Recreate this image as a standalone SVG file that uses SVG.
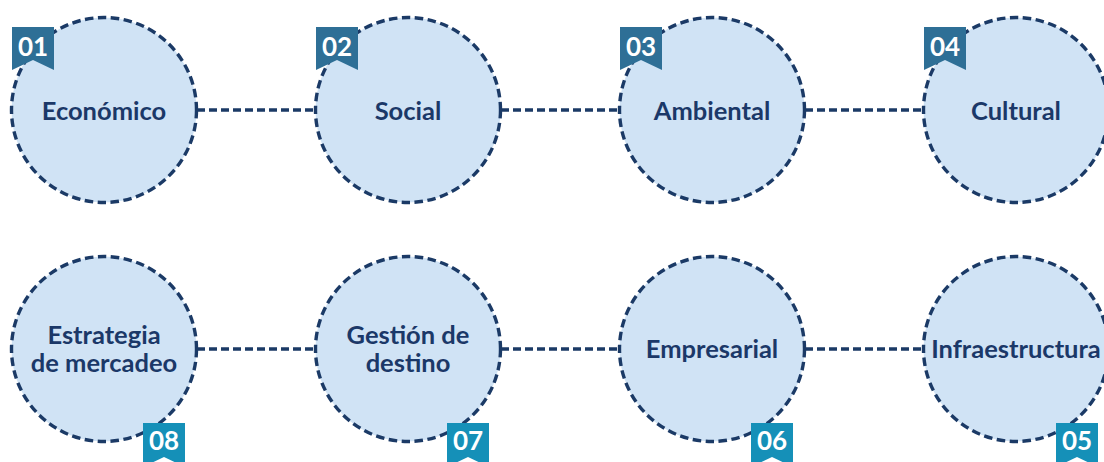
<svg xmlns="http://www.w3.org/2000/svg" width="1104" height="462" viewBox="0 0 1104 462">
<style>
.c{fill:#d0e3f5;stroke:#1b3a66;stroke-width:3.4;stroke-dasharray:8.5 4.5}
.l{stroke:#1b3a66;stroke-width:3.4;stroke-dasharray:8 4;fill:none}
.t{font-family:Lato,"Liberation Sans",sans-serif;font-weight:700;font-size:25.5px;fill:#1b3868;text-anchor:middle}
.b1{fill:#2e6f96}
.b2{fill:#1590b8}
.n{font-family:Lato,"Liberation Sans",sans-serif;font-weight:700;font-size:26px;fill:#ffffff;text-anchor:middle}
</style>
<rect width="1104" height="462" fill="#ffffff"/>
<g id="connectors">
<line class="l" x1="197" y1="110" x2="316" y2="110"/>
<line class="l" x1="501" y1="110" x2="620" y2="110"/>
<line class="l" x1="805" y1="110" x2="924" y2="110"/>
<line class="l" x1="197" y1="349" x2="316" y2="349"/>
<line class="l" x1="501" y1="349" x2="620" y2="349"/>
<line class="l" x1="805" y1="349" x2="924" y2="349"/>
</g>
<g id="n1">
<circle class="c" cx="104" cy="110" r="92.5"/>
<text class="t" x="104" y="120">Económico</text>
<path class="b1" d="M12 27H54V70L33 60L12 70Z"/>
<text class="n" x="33" y="56">01</text>
</g>
<g id="n2">
<circle class="c" cx="408" cy="110" r="92.5"/>
<text class="t" x="408" y="120">Social</text>
<path class="b1" d="M316 27H358V70L337 60L316 70Z"/>
<text class="n" x="337" y="56">02</text>
</g>
<g id="n3">
<circle class="c" cx="712" cy="110" r="92.5"/>
<text class="t" x="712" y="120">Ambiental</text>
<path class="b1" d="M620 27H662V70L641 60L620 70Z"/>
<text class="n" x="641" y="56">03</text>
</g>
<g id="n4">
<circle class="c" cx="1016" cy="110" r="92.5"/>
<text class="t" x="1016" y="120">Cultural</text>
<path class="b1" d="M924 27H966V70L945 60L924 70Z"/>
<text class="n" x="945" y="56">04</text>
</g>
<g id="n8">
<circle class="c" cx="104" cy="349" r="92.5"/>
<text class="t" x="104" y="344">Estrategia</text>
<text class="t" x="104" y="372">de mercadeo</text>
<path class="b2" d="M143 423H185V467L164 457L143 467Z"/>
<text class="n" x="164" y="450">08</text>
</g>
<g id="n7">
<circle class="c" cx="408" cy="349" r="92.5"/>
<text class="t" x="408" y="344">Gestión de</text>
<text class="t" x="408" y="372">destino</text>
<path class="b2" d="M447 423H489V467L468 457L447 467Z"/>
<text class="n" x="468" y="450">07</text>
</g>
<g id="n6">
<circle class="c" cx="712" cy="349" r="92.5"/>
<text class="t" x="712" y="358">Empresarial</text>
<path class="b2" d="M751 423H793V467L772 457L751 467Z"/>
<text class="n" x="772" y="450">06</text>
</g>
<g id="n5">
<circle class="c" cx="1016" cy="349" r="92.5"/>
<text class="t" x="1016" y="358">Infraestructura</text>
<path class="b2" d="M1056 423H1098V467L1077 457L1056 467Z"/>
<text class="n" x="1077" y="450">05</text>
</g>
</svg>
